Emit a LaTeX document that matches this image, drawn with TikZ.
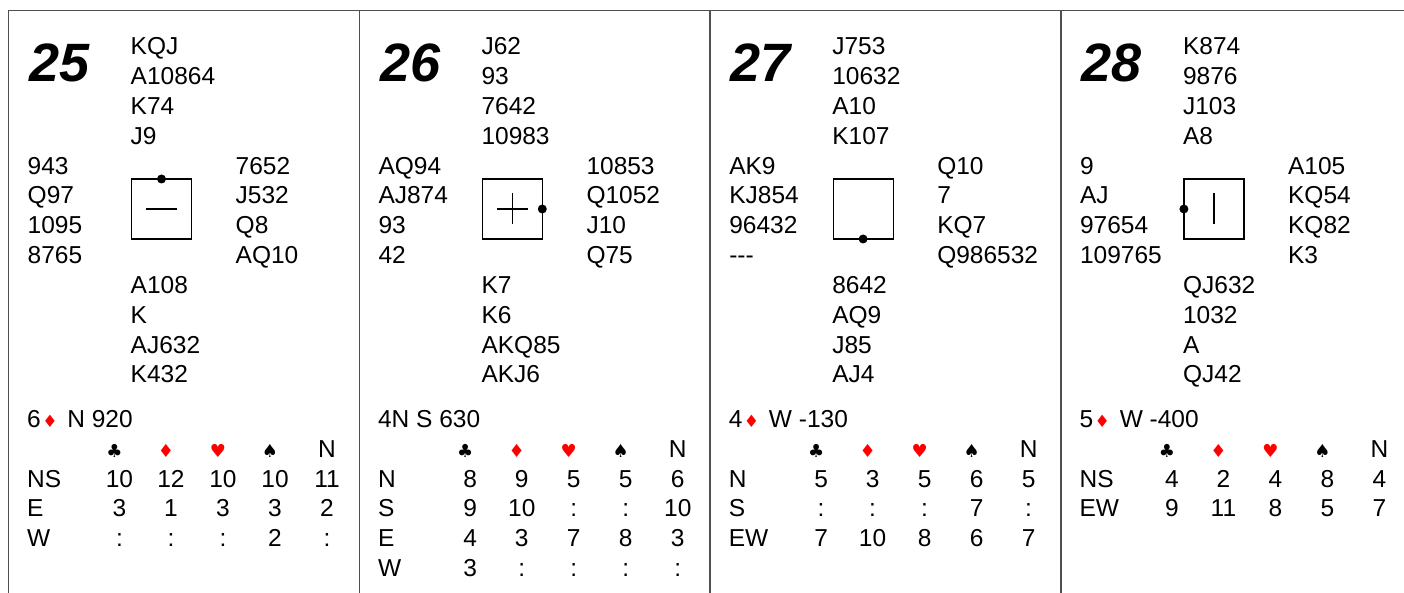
\documentclass[tikz,border=0pt]{standalone}
\usepackage{fontspec}
\setmainfont{Liberation Sans}
\newfontfamily\suitfont{DejaVu Sans}
\definecolor{suitred}{RGB}{255,0,0}
\definecolor{framegray}{RGB}{80,80,80}
\newcommand\bl[1]{55+29.8*(#1)}
\newcommand\sred[1]{{\suitfont\fontsize{17}{17}\selectfont\textcolor{suitred}{#1}}}
\newcommand\handx[7]{%
  \node[hand] (#1a) at (#2,{\bl{#3}}) {#4};
  \node[hand] (#1b) at (#2,{\bl{#3+1}}) {#5};
  \node[hand] (#1c) at (#2,{\bl{#3+2}}) {#6};
  \node[hand] (#1d) at (#2,{\bl{#3+3}}) {#7};}
\newcommand\trow[8]{%
  \node[hand] (#1l) at (27,{\bl{#2}}) {#3};
  \node[val] (#1a) at (119.5,{\bl{#2}}) {#4};
  \node[val] (#1b) at (171,{\bl{#2}}) {#5};
  \node[val] (#1c) at (223,{\bl{#2}}) {#6};
  \node[val] (#1d) at (275,{\bl{#2}}) {#7};
  \node[val] (#1e) at (327,{\bl{#2}}) {#8};}
\newcommand\thead[1]{%
  \node[suit] (#1a) at (114.5,{\bl{13.5}}) {♣};
  \node[suit,text=suitred] (#1b) at (166,{\bl{13.5}}) {♦};
  \node[suit,text=suitred] (#1c) at (218,{\bl{13.5}}) {♥};
  \node[suit] (#1d) at (270,{\bl{13.5}}) {♠};
  \node[val] (#1e) at (327,{\bl{13.5}}) {N};}
\tikzset{
  hand/.style={anchor=base west, inner sep=0, font=\fontsize{24.5}{24.5}\selectfont},
  val/.style={anchor=base, inner sep=0, font=\fontsize{24.5}{24.5}\selectfont},
  suit/.style={anchor=base, inner sep=0, font=\suitfont\fontsize{18}{18}\selectfont},
  bignum/.style={anchor=base west, inner sep=0, font=\fontsize{54}{54}\selectfont\bfseries\itshape},
  boxsq/.style={draw, line width=1.2pt, minimum size=60pt, inner sep=0, outer sep=0},
  frame/.style={draw=framegray, line width=1.5pt},
  tickline/.style={line width=1.2pt}
}
\begin{document}
\begin{tikzpicture}[x=1pt,y=-1pt]
\useasboundingbox (0,0) rectangle (1404,593);
\draw[frame] (8.5,10.5) -- (1404,10.5);
\foreach \k in {0,1,2,3}{\draw[frame] ({8.5+350.8*\k},10.5) -- ({8.5+350.8*\k},593);}

% ---------- 25 ----------
\begin{scope}[xshift=0pt]
\node[bignum] (aNum) at (29,82) {25};
\handx{aN}{130.5}{0}{KQJ}{A10864}{K74}{J9}
\handx{aW}{27.5}{4}{943}{Q97}{1095}{8765}
\handx{aE}{235.5}{4}{7652}{J532}{Q8}{AQ10}
\handx{aS}{130.5}{8}{A108}{K}{AJ632}{K432}
\node[boxsq] (aBox) at (161.5,209) {};
\fill (aBox.north) circle (4.5);
\draw[tickline] ([xshift=-15.5pt]aBox.center) -- ([xshift=15.5pt]aBox.center);
\node[hand] (aCon) at (27,{\bl{12.5}}) {6\hspace{1.5pt}\sred{♦}\hspace{3pt} N 920};
\thead{aH}
\trow{aR1}{14.5}{NS}{10}{12}{10}{10}{11}
\trow{aR2}{15.5}{E}{3}{1}{3}{3}{2}
\trow{aR3}{16.5}{W}{:}{:}{:}{2}{:}
\end{scope}

% ---------- 26 ----------
\begin{scope}[xshift=350.8pt]
\node[bignum] (bNum) at (29,82) {26};
\handx{bN}{130.5}{0}{J62}{93}{7642}{10983}
\handx{bW}{27.5}{4}{AQ94}{AJ874}{93}{42}
\handx{bE}{235.5}{4}{10853}{Q1052}{J10}{Q75}
\handx{bS}{130.5}{8}{K7}{K6}{AKQ85}{AKJ6}
\node[boxsq] (bBox) at (161.5,209) {};
\fill (bBox.east) circle (4.5);
\draw[tickline] ([xshift=-15.5pt]bBox.center) -- ([xshift=15.5pt]bBox.center);
\draw[tickline] ([yshift=-15.5pt]bBox.center) -- ([yshift=15.5pt]bBox.center);
\node[hand] (bCon) at (27,{\bl{12.5}}) {4N S 630};
\thead{bH}
\trow{bR1}{14.5}{N}{8}{9}{5}{5}{6}
\trow{bR2}{15.5}{S}{9}{10}{:}{:}{10}
\trow{bR3}{16.5}{E}{4}{3}{7}{8}{3}
\trow{bR4}{17.5}{W}{3}{:}{:}{:}{:}
\end{scope}

% ---------- 27 ----------
\begin{scope}[xshift=701.6pt]
\node[bignum] (cNum) at (29,82) {27};
\handx{cN}{130.5}{0}{J753}{10632}{A10}{K107}
\handx{cW}{27.5}{4}{AK9}{KJ854}{96432}{-\kern0pt-\kern0pt-}
\handx{cE}{235.5}{4}{Q10}{7}{KQ7}{Q986532}
\handx{cS}{130.5}{8}{8642}{AQ9}{J85}{AJ4}
\node[boxsq] (cBox) at (161.5,209) {};
\fill (cBox.south) circle (4.5);
\node[hand] (cCon) at (27,{\bl{12.5}}) {4\hspace{1.5pt}\sred{♦}\hspace{3pt} W -130};
\thead{cH}
\trow{cR1}{14.5}{N}{5}{3}{5}{6}{5}
\trow{cR2}{15.5}{S}{:}{:}{:}{7}{:}
\trow{cR3}{16.5}{EW}{7}{10}{8}{6}{7}
\end{scope}

% ---------- 28 ----------
\begin{scope}[xshift=1052.4pt]
\node[bignum] (dNum) at (29,82) {28};
\handx{dN}{130.5}{0}{K874}{9876}{J103}{A8}
\handx{dW}{27.5}{4}{9}{AJ}{97654}{109765}
\handx{dE}{235.5}{4}{A105}{KQ54}{KQ82}{K3}
\handx{dS}{130.5}{8}{QJ632}{1032}{A}{QJ42}
\node[boxsq] (dBox) at (161.5,209) {};
\fill (dBox.west) circle (4.5);
\draw[tickline] ([yshift=-15.5pt]dBox.center) -- ([yshift=15.5pt]dBox.center);
\node[hand] (dCon) at (27,{\bl{12.5}}) {5\hspace{1.5pt}\sred{♦}\hspace{3pt} W -400};
\thead{dH}
\trow{dR1}{14.5}{NS}{4}{2}{4}{8}{4}
\trow{dR2}{15.5}{EW}{9}{11}{8}{5}{7}
\end{scope}
\end{tikzpicture}
\end{document}
